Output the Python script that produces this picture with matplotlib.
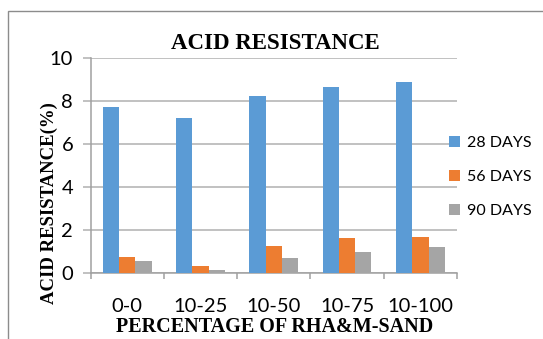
import numpy as np
import matplotlib
matplotlib.use("Agg")
import matplotlib.pyplot as plt
from matplotlib.patches import Rectangle

# mix ratios (RHA % - M-sand %) and acid resistance at each curing age
categories = ["0-0", "10-25", "10-50", "10-75", "10-100"]
days_28 = [7.75, 7.20, 8.24, 8.65, 8.90]
days_56 = [0.76, 0.31, 1.26, 1.61, 1.69]
days_90 = [0.56, 0.12, 0.71, 0.96, 1.21]
series_labels = ["28 DAYS", "56 DAYS", "90 DAYS"]
colors = ["#5B9BD5", "#ED7D31", "#A5A5A5"]

serif = ["Liberation Serif", "DejaVu Serif"]
sans = ["Lato", "DejaVu Sans"]

fig = plt.figure(figsize=(5.43, 3.39), dpi=100)
ax = fig.add_axes([0.1667, 0.1947, 0.675, 0.633])

x = np.arange(len(categories))
w = 0.222
for i, (vals, lab, c) in enumerate(zip([days_28, days_56, days_90], series_labels, colors)):
    ax.bar(x + (i - 1) * w, vals, width=w, color=c, label=lab, zorder=3)

ax.set_xlim(-0.5, len(categories) - 0.5)
ax.set_ylim(0, 10)
ax.set_yticks(range(0, 11, 2))
ax.grid(axis="y", color="#B0B0B0", linewidth=1.1, zorder=0)

for side in ["top", "right"]:
    ax.spines[side].set_visible(False)
for side in ["left", "bottom"]:
    ax.spines[side].set_color("#A0A0A0")
    ax.spines[side].set_linewidth(1.1)

# category labels centred, tick marks at the group boundaries
ax.set_xticks(x)
ax.set_xticklabels(categories, family=sans, fontsize=14.5)
ax.set_xticks(np.arange(-0.5, len(categories), 1.0), minor=True)
ax.tick_params(axis="x", which="major", length=0, pad=18)
ax.tick_params(axis="x", which="minor", length=4.5, color="#A0A0A0", width=1.1)
ax.tick_params(axis="y", length=5.5, color="#B0B0B0", width=1.1, pad=7)
for t in ax.get_yticklabels():
    t.set_family(sans)
    t.set_fontsize(14.5)

fig.text(0.508, 0.872, "ACID RESISTANCE", family=serif, fontsize=16.5,
         fontweight="bold", ha="center", va="center")
fig.text(0.505, 0.034, "PERCENTAGE OF RHA&M-SAND", family=serif, fontsize=14.5,
         fontweight="bold", ha="center", va="center")
fig.text(0.09, 0.40, "ACID RESISTANCE(%)", family=serif, fontsize=13.5,
         fontweight="bold", ha="center", va="center", rotation=90)

ax.legend(loc="center left", bbox_to_anchor=(0.978, 0.447), frameon=False,
          prop={"family": sans, "size": 11.5}, handlelength=0.7, handleheight=0.7,
          handletextpad=0.4, labelspacing=1.25, borderaxespad=0, borderpad=0)

# chart border (left and top edges visible)
fig.patches.append(Rectangle((8 / 543, -0.1), 1.2, 1.1 - 11 / 339,
                             transform=fig.transFigure, fill=False,
                             edgecolor="#8C8C8C", linewidth=1.0))

fig.savefig("out.png", dpi=100)
